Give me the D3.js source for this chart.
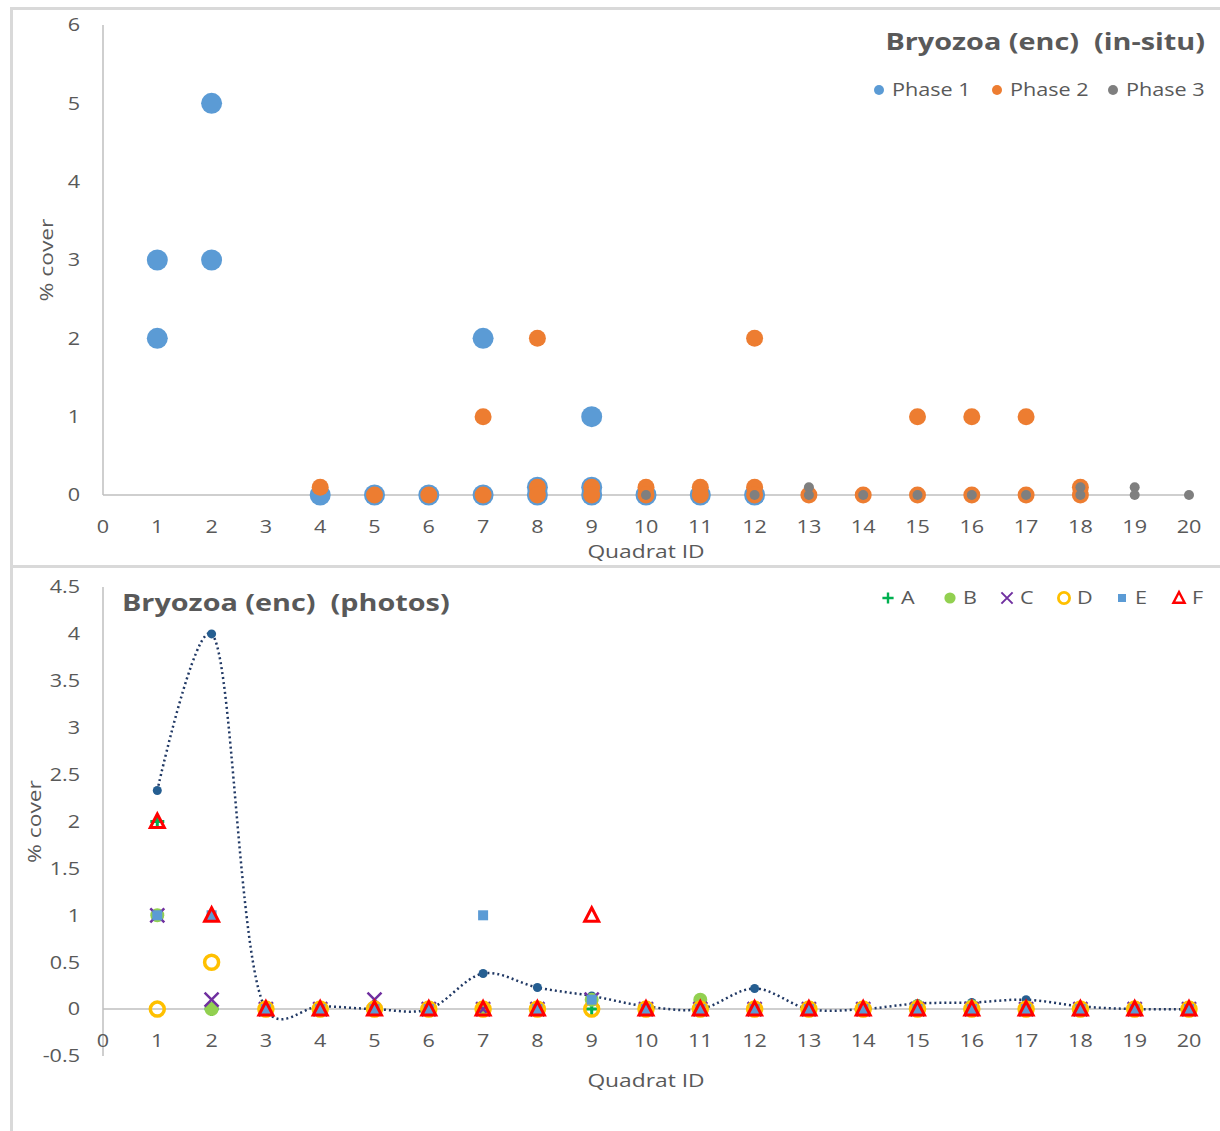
<!DOCTYPE html>
<html>
<head>
<script src="https://d3js.org/d3.v7.min.js"></script>
<style>
  body { margin: 0; background: #fff; font-family: "Open Sans", sans-serif; }
  text { fill: #595959; }
</style>
</head>
<body>
<div id="chart"></div>
<script>
// ---- top chart data (in-situ) : [quadrat, % cover]
var phase1 = [[1,3],[1,2],[2,5],[2,3],[4,0],[5,0],[6,0],[7,2],[7,0],[8,0.1],[8,0],[9,1],[9,0.1],[9,0],[10,0],[11,0],[12,0]];
var phase2 = [[4,0.1],[5,0],[6,0],[7,1],[7,0],[8,2],[8,0.1],[8,0],[9,0.1],[9,0],[10,0.1],[10,0],[11,0.1],[11,0],
              [12,2],[12,0.1],[12,0],[13,0],[14,0],[15,1],[15,0],[16,1],[16,0],[17,1],[17,0],[18,0.1],[18,0]];
var phase3 = [[10,0],[12,0],[13,0.1],[13,0],[14,0],[15,0],[16,0],[17,0],[18,0.1],[18,0],[19,0.1],[19,0],[20,0]];
var topTicksY = [0,1,2,3,4,5,6];

// ---- bottom chart data (photos), one value per quadrat 1..20
var quadrats = d3.range(1, 21);
var seriesA = [2,0,0,0,0,0,0,0,0,0,0,0,0,0,0,0,0,0,0,0];
var seriesB = [1,0,0,0,0,0,0,0,0.1,0,0.1,0,0,0,0.03,0.03,0,0,0,0];
var seriesC = [1,0.1,0,0,0.1,0,0,0,0.1,0,0,0,0,0,0,0,0,0,0,0];
var seriesD = [0,0.5,0,0,0,0,0,0,0,0,0,0,0,0,0,0,0,0,0,0];
var seriesE = [1,1,0,0,0,0,1,0,0.1,0,0,0,0,0,0,0,0,0,0,0];
var seriesF = [2,1,0,0,0,0,0,0,1,0,0,0,0,0,0,0,0,0,0,0];
var meanLine = [2.33,4,0,0.03,0,0,0.38,0.23,0.14,0.03,0,0.22,0,0,0.06,0.07,0.1,0.03,0,0];
var botTicksY = [-0.5,0,0.5,1,1.5,2,2.5,3,3.5,4,4.5];
var xTicks = d3.range(0, 21);

var SX = 1.2; // horizontal stretch of the labels, like the reference's font

var svg = d3.select('#chart').append('svg')
    .attr('width', 1220)
    .attr('height', 1131);

// panel borders
svg.append('path')
    .attr('d', 'M11.5,1131 V8.5 H1220 M11.5,566.5 H1220')
    .attr('fill', 'none')
    .attr('stroke', '#d9d9d9')
    .attr('stroke-width', 3);

// text helper: stretched horizontally around its anchor
function txt(g, x, y, str, size, anchor, bold) {
    return g.append('text')
        .attr('transform', 'translate(' + x + ',' + y + ') scale(' + SX + ',1)')
        .attr('dy', '0.35em')
        .attr('text-anchor', anchor || 'start')
        .style('font-size', size + 'px')
        .style('font-weight', bold ? 'bold' : null)
        .text(str);
}

function drawAxes(g, x, y, yTicks, xAxisY, yTop, yBottom) {
    g.append('line').attr('x1', x(0)).attr('x2', x(20))
        .attr('y1', xAxisY).attr('y2', xAxisY)
        .attr('stroke', '#bfbfbf').attr('stroke-width', 1.5);
    g.append('line').attr('x1', x(0)).attr('x2', x(0))
        .attr('y1', yTop).attr('y2', yBottom)
        .attr('stroke', '#bfbfbf').attr('stroke-width', 1.5);

    yTicks.forEach(function(d) { txt(g, 80, y(d), d, 18, 'end'); });
    xTicks.forEach(function(d) { txt(g, x(d), xAxisY + 32, d, 18, 'middle'); });
}

// ================= TOP CHART =================
var xT = d3.scaleLinear().domain([0, 20]).range([103, 1189]);
var yT = d3.scaleLinear().domain([0, 6]).range([495, 25]);
var gT = svg.append('g');

drawAxes(gT, xT, yT, topTicksY, yT(0), yT(6), yT(0));

gT.append('text')
    .attr('transform', 'translate(46,' + yT(3) + ') rotate(-90) scale(' + SX + ',1)')
    .attr('text-anchor', 'middle')
    .attr('dy', '0.35em')
    .style('font-size', '19px')
    .text('% cover');
txt(gT, 646, 551, 'Quadrat ID', 19, 'middle');
txt(gT, 1205, 42, 'Bryozoa (enc)\u00a0\u00a0(in-situ)', 24, 'end', true);

var phases = [
    { name: 'Phase 1', data: phase1, color: '#5b9bd5', r: 10.5, lx: 879 },
    { name: 'Phase 2', data: phase2, color: '#ed7d31', r: 8.5, lx: 997 },
    { name: 'Phase 3', data: phase3, color: '#7f7f7f', r: 5, lx: 1113 }
];

phases.forEach(function(p) {
    gT.append('g').selectAll('circle').data(p.data).enter().append('circle')
        .attr('cx', function(d) { return xT(d[0]); })
        .attr('cy', function(d) { return yT(d[1]); })
        .attr('r', p.r)
        .attr('fill', p.color);

    gT.append('circle').attr('cx', p.lx).attr('cy', 90).attr('r', 5).attr('fill', p.color);
    txt(gT, p.lx + 13, 90, p.name, 18);
});

// ================= BOTTOM CHART =================
var xB = d3.scaleLinear().domain([0, 20]).range([103, 1189]);
var yB = d3.scaleLinear().domain([-0.5, 4.5]).range([1056, 587]);
var gB = svg.append('g');

drawAxes(gB, xB, yB, botTicksY, yB(0), yB(4.5), yB(-0.5));

gB.append('text')
    .attr('transform', 'translate(34,' + yB(2) + ') rotate(-90) scale(' + SX + ',1)')
    .attr('text-anchor', 'middle')
    .attr('dy', '0.35em')
    .style('font-size', '19px')
    .text('% cover');
txt(gB, 646, 1080, 'Quadrat ID', 19, 'middle');
txt(gB, 122, 603, 'Bryozoa (enc)\u00a0\u00a0(photos)', 24, 'start', true);

// smoothed dotted mean line with dots
var line = d3.line()
    .x(function(d, i) { return xB(quadrats[i]); })
    .y(function(d) { return yB(d); })
    .curve(d3.curveCatmullRom.alpha(0.3));

gB.append('path')
    .datum(meanLine)
    .attr('d', line)
    .attr('fill', 'none')
    .attr('stroke', '#203864')
    .attr('stroke-width', 2.5)
    .attr('stroke-dasharray', '2,3');

gB.append('g').selectAll('circle').data(meanLine).enter().append('circle')
    .attr('cx', function(d, i) { return xB(quadrats[i]); })
    .attr('cy', function(d) { return yB(d); })
    .attr('r', 4.5)
    .attr('fill', '#255e91');

// marker drawers
function markA(sel, color) {
    sel.append('path').attr('d', 'M-7,0H7M0,-7V7')
        .attr('stroke', color).attr('stroke-width', 3).attr('fill', 'none');
}
function markB(sel, color) {
    sel.append('circle').attr('r', 7).attr('fill', color);
}
function markC(sel, color) {
    sel.append('path').attr('d', 'M-7,-7L7,7M-7,7L7,-7')
        .attr('stroke', color).attr('stroke-width', 2.5).attr('fill', 'none');
}
function markD(sel, color) {
    sel.append('circle').attr('r', 7).attr('fill', 'none')
        .attr('stroke', color).attr('stroke-width', 3.5);
}
function markE(sel, color) {
    sel.append('rect').attr('x', -5).attr('y', -5).attr('width', 10).attr('height', 10)
        .attr('fill', color);
}
function markF(sel, color) {
    sel.append('path').attr('d', 'M0,-7.5L7,6L-7,6Z')
        .attr('stroke', color).attr('stroke-width', 3).attr('fill', 'none')
        .attr('stroke-linejoin', 'miter');
}

var photoSeries = [
    { name: 'A', data: seriesA, color: '#00b050', mark: markA, lx: 888 },
    { name: 'B', data: seriesB, color: '#92d050', mark: markB, lx: 950 },
    { name: 'C', data: seriesC, color: '#7030a0', mark: markC, lx: 1007 },
    { name: 'D', data: seriesD, color: '#ffc000', mark: markD, lx: 1064 },
    { name: 'E', data: seriesE, color: '#5b9bd5', mark: markE, lx: 1122 },
    { name: 'F', data: seriesF, color: '#ff0000', mark: markF, lx: 1179 }
];

photoSeries.forEach(function(s) {
    var pts = gB.append('g').selectAll('g').data(s.data).enter().append('g')
        .attr('transform', function(d, i) { return 'translate(' + xB(quadrats[i]) + ',' + yB(d) + ')'; });
    s.mark(pts, s.color);

    var lg = gB.append('g').attr('transform', 'translate(' + s.lx + ',598)');
    s.mark(lg.append('g').attr('transform', 'scale(0.8)'), s.color);
    txt(lg, 13, 0, s.name, 18);
});
</script>
</body>
</html>
